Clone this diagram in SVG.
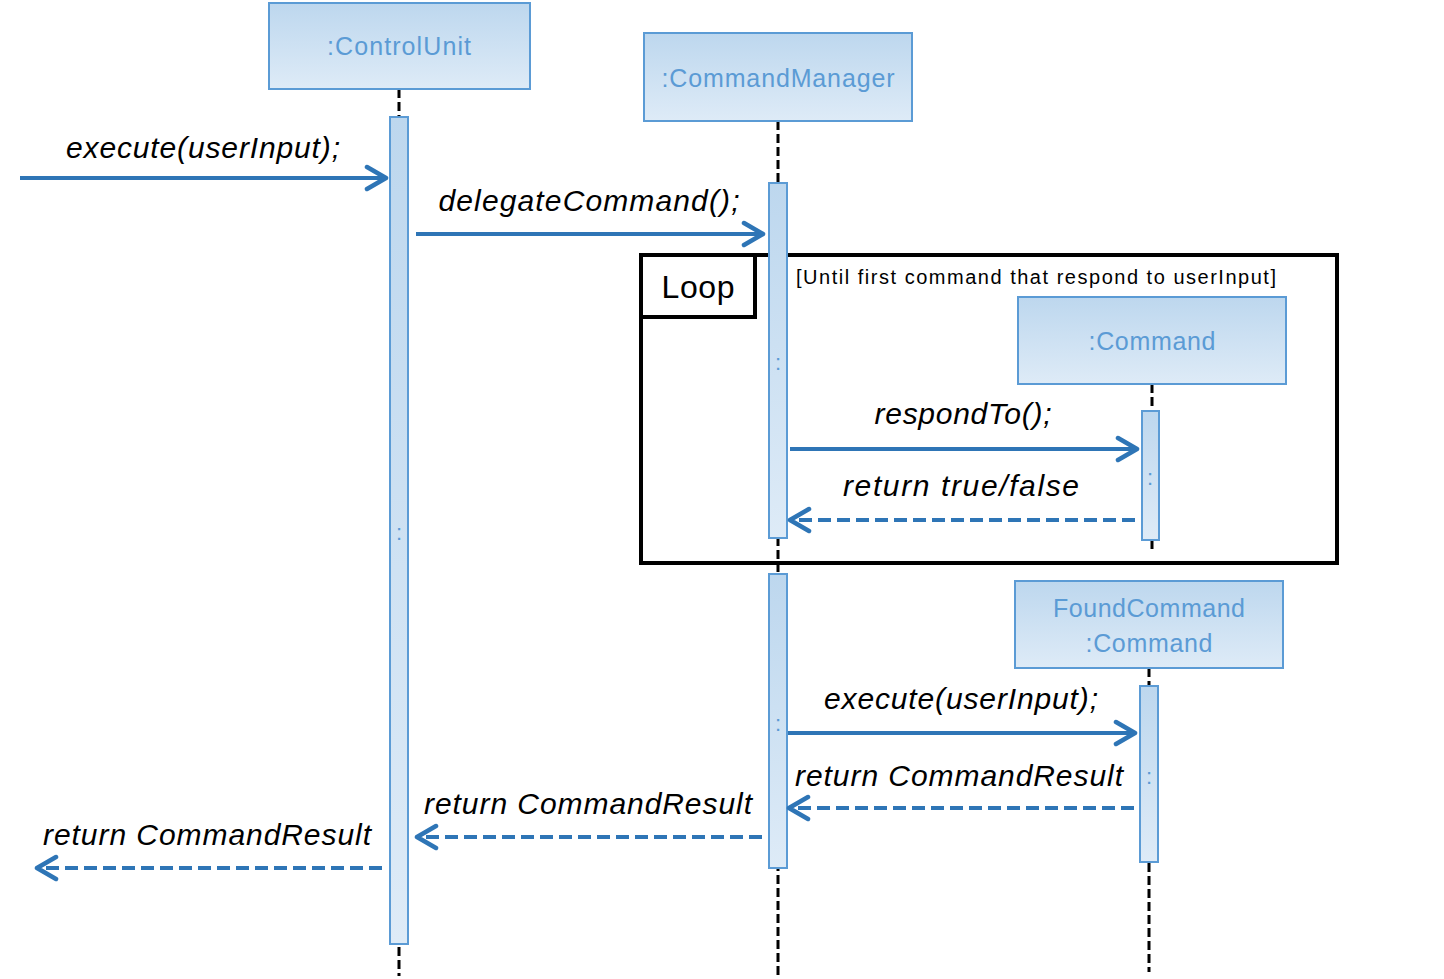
<svg xmlns="http://www.w3.org/2000/svg" width="1444" height="979" viewBox="0 0 1444 979">
<defs>
<linearGradient id="g" x1="0" y1="0" x2="0" y2="1">
<stop offset="0" stop-color="#BDD7EE"/>
<stop offset="1" stop-color="#DEEBF7"/>
</linearGradient>
<marker id="arr" markerUnits="userSpaceOnUse" markerWidth="30" markerHeight="30" refX="22" refY="12" orient="auto" viewBox="0 0 30 24">
<path d="M3,1 L22,12 L3,23" fill="none" stroke="#2E75B6" stroke-width="4.5" stroke-linecap="round" stroke-linejoin="round"/>
</marker>
<style>
.box{fill:url(#g);stroke:#5B9BD5;stroke-width:2}
.bar{fill:url(#g);stroke:#5B9BD5;stroke-width:2}
.hdr{font-family:"Liberation Sans",Arial,sans-serif;font-size:25px;fill:#5B9BD5;text-anchor:middle}
.dots{font-family:"Liberation Sans",Arial,sans-serif;font-size:22px;fill:#5B9BD5;text-anchor:middle}
.life{stroke:#000;stroke-width:3;stroke-dasharray:9 4;fill:none}
.msg{stroke:#2E75B6;stroke-width:4;fill:none;marker-end:url(#arr)}
.ret{stroke:#2E75B6;stroke-width:4;fill:none;stroke-dasharray:13 6;marker-end:url(#arr)}
.lbl{font-family:"Liberation Sans",Arial,sans-serif;font-size:30px;font-style:italic;fill:#000;text-anchor:middle}
.frame{fill:none;stroke:#000;stroke-width:4}
</style>
</defs>
<rect width="1444" height="979" fill="#fff"/>

<g id="lifelines">
<line class="life" x1="399" y1="89" x2="399" y2="976"/>
<line class="life" x1="778" y1="121" x2="778" y2="976"/>
<line class="life" x1="1152" y1="384" x2="1152" y2="553"/>
<line class="life" x1="1149" y1="668" x2="1149" y2="972"/>
</g>

<g id="loop">
<rect class="frame" x="641" y="255" width="696" height="308"/>
<path class="frame" d="M641,317 H755 V255"/>
<text x="698" y="298" font-family="'Liberation Sans',Arial,sans-serif" font-size="32" text-anchor="middle" textLength="73">Loop</text>
<text x="796" y="284" font-family="'Liberation Sans',Arial,sans-serif" font-size="20" textLength="480">[Until first command that respond to userInput]</text>
</g>

<g id="ControlUnit">
<rect class="box" x="269" y="3" width="261" height="86"/>
<text class="hdr" x="399" y="55" textLength="144">:ControlUnit</text>
<rect class="bar" x="390" y="117" width="18" height="827"/>
<text class="dots" x="399" y="540">:</text>
</g>

<g id="CommandManager">
<rect class="box" x="644" y="33" width="268" height="88"/>
<text class="hdr" x="778" y="87" textLength="233">:CommandManager</text>
<rect class="bar" x="769" y="183" width="18" height="355"/>
<text class="dots" x="778" y="370">:</text>
<rect class="bar" x="769" y="574" width="18" height="294"/>
<text class="dots" x="778" y="731">:</text>
</g>

<g id="Command">
<rect class="box" x="1018" y="297" width="268" height="87"/>
<text class="hdr" x="1152" y="350" textLength="127">:Command</text>
<rect class="bar" x="1142" y="411" width="17" height="129"/>
<text class="dots" x="1150" y="485">:</text>
</g>

<g id="FoundCommand">
<rect class="box" x="1015" y="581" width="268" height="87"/>
<text class="hdr" x="1149" y="617" textLength="192">FoundCommand</text>
<text class="hdr" x="1149" y="652" textLength="127">:Command</text>
<rect class="bar" x="1140" y="686" width="18" height="176"/>
<text class="dots" x="1149" y="784">:</text>
</g>

<g id="connectors">
<line class="msg" x1="20" y1="178" x2="386" y2="178"/>
<line class="msg" x1="416" y1="234" x2="763" y2="234"/>
<line class="msg" x1="790" y1="449" x2="1137" y2="449"/>
<line class="ret" x1="1135" y1="520" x2="790" y2="520"/>
<line class="msg" x1="788" y1="733" x2="1135" y2="733"/>
<line class="ret" x1="1134" y1="808" x2="789" y2="808"/>
<line class="ret" x1="762" y1="837" x2="417" y2="837"/>
<line class="ret" x1="382" y1="868" x2="37" y2="868"/>
</g>

<g id="labels">
<text class="lbl" x="203" y="158" textLength="274">execute(userInput);</text>
<text class="lbl" x="589" y="211" textLength="301">delegateCommand();</text>
<text class="lbl" x="963" y="424" textLength="177">respondTo();</text>
<text class="lbl" x="961" y="496" textLength="236">return true/false</text>
<text class="lbl" x="961" y="709" textLength="274">execute(userInput);</text>
<text class="lbl" x="959" y="786" textLength="328">return CommandResult</text>
<text class="lbl" x="588" y="814" textLength="328">return CommandResult</text>
<text class="lbl" x="207" y="845" textLength="328">return CommandResult</text>
</g>
</svg>
